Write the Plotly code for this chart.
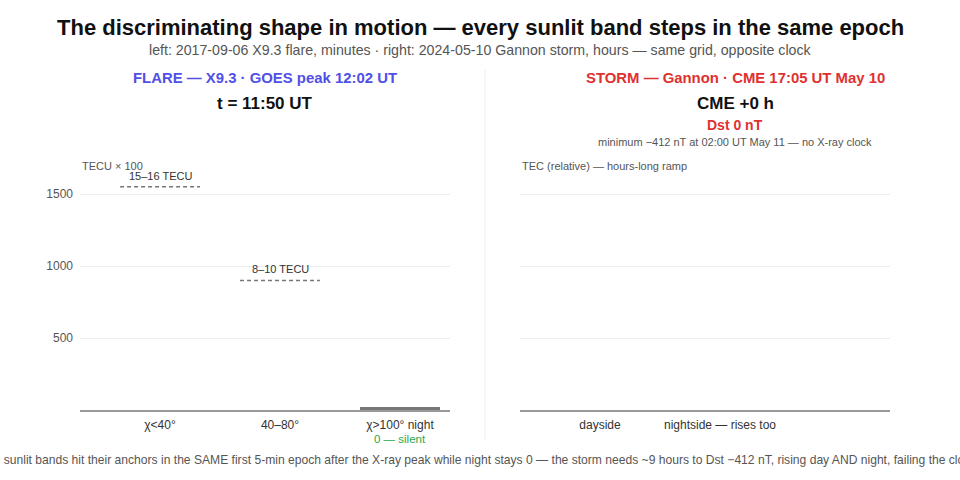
import plotly.graph_objects as go

# ---- data ----
flare_bands = ["χ<40°", "40–80°", "χ>100° night"]
flare_values = [0, 0, 18]          # TECU x 100 at t = 11:50 UT
flare_anchor_bands = [0, 1]
flare_anchor_values = [1550, 900]
flare_anchor_labels = ["15–16 TECU", "8–10 TECU"]

storm_bands = ["dayside", "nightside — rises too"]
storm_values = [0, 0]

y_ticks = [500, 1000, 1500]

W, H = 960, 480
def py(px):
    return 1 - px / H
def pxx(px):
    return px / W

fig = go.Figure()

# flare bars
fig.add_trace(go.Bar(
    x=list(range(len(flare_bands))), y=flare_values,
    width=0.667, marker=dict(color=["#4f4fe6", "#8a8af0", "#777777"], line=dict(width=0)),
    xaxis="x", yaxis="y", showlegend=False, hoverinfo="skip"))

# anchor dashed lines
for b, v in zip(flare_anchor_bands, flare_anchor_values):
    fig.add_trace(go.Scatter(
        x=[b - 0.333, b + 0.333], y=[v, v], mode="lines",
        line=dict(color="#777777", width=1.5, dash="4px,3px"),
        xaxis="x", yaxis="y", showlegend=False, hoverinfo="skip"))

# storm bars
fig.add_trace(go.Bar(
    x=list(range(len(storm_bands))), y=storm_values,
    width=0.667, marker=dict(color=["#e03131", "#f08080"], line=dict(width=0)),
    xaxis="x2", yaxis="y2", showlegend=False, hoverinfo="skip"))

yb, yt = py(410), py(158)
common_x = dict(range=[-0.667, 2.417], showgrid=False, zeroline=False,
                showline=True, linecolor="#999999", linewidth=2, ticks="",
                ticklabelstandoff=3,
                tickfont=dict(size=12, color="#333333"), fixedrange=True)
common_y = dict(range=[0, 1750], showgrid=True, gridcolor="#eeeeee", gridwidth=1,
                zeroline=False, showline=False, tickvals=y_ticks, fixedrange=True)

fig.update_layout(
    width=W, height=H,
    margin=dict(l=0, r=0, t=0, b=0),
    paper_bgcolor="white", plot_bgcolor="white",
    font=dict(family="Liberation Sans, Arial, sans-serif", color="#333333"),
    bargap=0,
    xaxis=dict(domain=[pxx(80), pxx(450)], anchor="y",
               tickvals=list(range(len(flare_bands))), ticktext=flare_bands, **common_x),
    yaxis=dict(domain=[yb, yt], anchor="x", tickfont=dict(size=12, color="#555555"),
               ticklabelstandoff=6, **common_y),
    xaxis2=dict(domain=[pxx(520), pxx(890)], anchor="y2",
                tickvals=list(range(len(storm_bands))), ticktext=storm_bands, **common_x),
    yaxis2=dict(domain=[yb, yt], anchor="x2", showticklabels=False, **common_y),
)

ann = []
def A(text, x, y, size, color="#333333", bold=False, xanchor="center", xref="paper", yref="paper"):
    t = f"<b>{text}</b>" if bold else text
    ann.append(dict(text=t, x=x, y=y, xref=xref, yref=yref, xanchor=xanchor,
                    yanchor="middle", showarrow=False,
                    font=dict(size=size, color=color)))

A("The discriminating shape in motion — every sunlit band steps in the same epoch",
  0.5, py(27), 22, "#111111", True)
A("left: 2017-09-06 X9.3 flare, minutes · right: 2024-05-10 Gannon storm, hours — same grid, opposite clock",
  0.5, py(50), 14.2, "#555555")
A("FLARE — X9.3 · GOES peak 12:02 UT", pxx(265), py(78), 14.9, "#5050e6", True)
A("t = 11:50 UT", pxx(265), py(103), 17, "#111111", True)
A("STORM — Gannon · CME 17:05 UT May 10", pxx(735), py(78), 14.9, "#e03131", True)
A("CME +0 h", pxx(735), py(103), 17, "#111111", True)
A("Dst 0 nT", pxx(735), py(125), 14, "#e03131", True)
A("minimum −412 nT at 02:00 UT May 11 — no X-ray clock", pxx(735), py(142), 11, "#555555")
A("TECU × 100", pxx(80), py(166), 11, "#555555", xanchor="left")
A("TEC (relative) — hours-long ramp", pxx(520), py(166), 11, "#555555", xanchor="left")
for b, v, lab in zip(flare_anchor_bands, flare_anchor_values, flare_anchor_labels):
    ann.append(dict(text=lab, x=b, y=v, xref="x", yref="y", yanchor="bottom",
                    showarrow=False, yshift=3, font=dict(size=11, color="#333333")))
ann.append(dict(text="0 — silent", x=2, y=py(439), xref="x", yref="paper",
                yanchor="middle", showarrow=False, font=dict(size=11.5, color="#2aa84a")))
A("Verdict: sunlit bands hit their anchors in the SAME first 5-min epoch after the X-ray peak while night stays 0 — "
  "the storm needs ~9 hours to Dst −412 nT, rising day AND night, failing the clock test",
  0.5, py(460), 12.1, "#555555")
fig.update_layout(annotations=ann)

fig.add_shape(type="line", xref="paper", yref="paper", x0=pxx(485), x1=pxx(485),
              y0=py(70), y1=py(440), line=dict(color="#eeeeee", width=1))

fig.write_html("out.html", config={"displayModeBar": False},
               post_script="document.body.style.margin='0';")
